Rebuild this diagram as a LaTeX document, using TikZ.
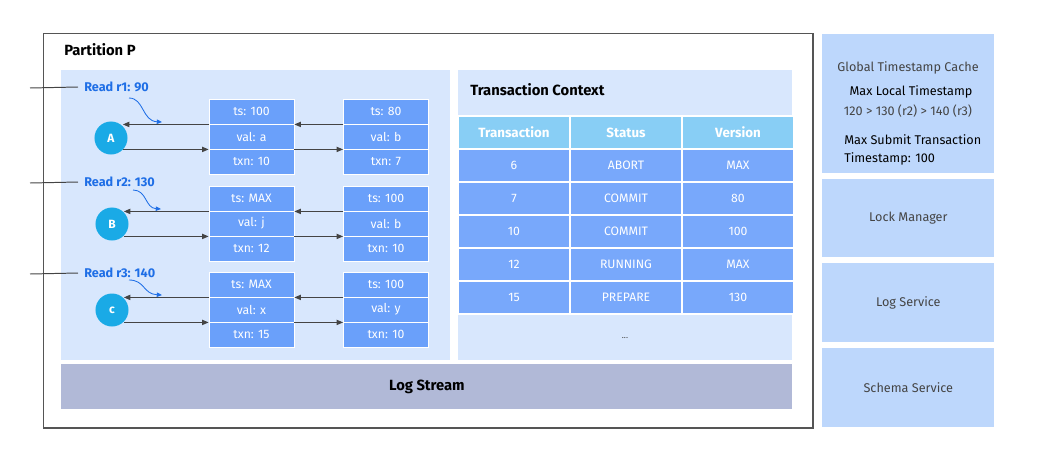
\documentclass[tikz,border=0pt]{standalone}
\usepackage{fontspec}
\setmainfont{Fira Sans}
\usetikzlibrary{arrows.meta,positioning,calc}
\definecolor{framegray}{RGB}{85,85,85}
\definecolor{panelblue}{RGB}{216,231,253}
\definecolor{cellblue}{RGB}{106,160,250}
\definecolor{tabblue}{RGB}{120,168,251}
\definecolor{headcyan}{RGB}{136,206,245}
\definecolor{dotcyan}{RGB}{26,170,230}
\definecolor{sideblue}{RGB}{189,215,252}
\definecolor{streamgray}{RGB}{177,185,215}
\definecolor{readblue}{RGB}{30,110,230}
\definecolor{textgray}{RGB}{68,68,68}

\begin{document}
\begin{tikzpicture}[x=0.025cm,y=-0.025cm,font=\fontsize{8.7}{10.4}\selectfont,
 panel/.style={fill=panelblue,draw=none,anchor=north west,inner sep=0pt},
 side/.style={fill=sideblue,draw=none,anchor=north west,inner sep=0pt,minimum width=4.3cm,text=textgray},
 cell/.style={fill=cellblue,draw=white,line width=0.6pt,text=white,minimum width=2.125cm,minimum height=0.625cm,inner sep=0pt},
 tcell/.style={fill=tabblue,draw=white,line width=1.4pt,text=white,minimum width=2.8cm,minimum height=0.825cm,inner sep=0pt},
 thead/.style={tcell,fill=headcyan,font=\fontsize{9.5}{11}\selectfont\bfseries},
 dot/.style={circle,fill=dotcyan,text=white,font=\fontsize{8.5}{10}\selectfont\bfseries,minimum size=0.825cm,inner sep=0pt},
 rdlab/.style={anchor=west,text=readblue,font=\fontsize{9}{10.8}\selectfont\bfseries,inner xsep=0.15cm,inner ysep=0pt},
 title/.style={anchor=west,inner sep=0pt,font=\fontsize{10.5}{12.5}\selectfont\bfseries},
 arr/.style={-{Triangle[length=1.6mm,width=1.3mm]},line width=0.7pt,draw=textgray},
 rd/.style={-{Triangle[length=1.3mm,width=1.1mm]},line width=0.6pt,draw=readblue},
 lead/.style={line width=0.7pt,draw=textgray}]
\useasboundingbox (0,0) rectangle (1040,454);
% partition frame
\node[draw=framegray,line width=1pt,anchor=north west,inner sep=0pt,minimum width=19.225cm,minimum height=9.85cm] (part) at (43,33) {};
\node[title] (ptitle) at (64,50) {Partition P};
\node[panel,minimum width=9.725cm,minimum height=7.25cm] (mvcc) at (61,70) {};
\node[panel,minimum width=8.35cm,minimum height=7.25cm] (ctx) at (458,70) {};
\node[panel,fill=streamgray,minimum width=18.275cm,minimum height=1.125cm,font=\fontsize{10.5}{12.5}\selectfont\bfseries] (stream) at (61,364) {Log Stream};
% services on the right
\node[side,minimum height=3.475cm,font=\fontsize{9}{10.8}\selectfont] (gts) at (822,34) {};
\node[side,minimum height=1.95cm,font=\fontsize{9}{10.8}\selectfont] (lock) at (822,179) {Lock Manager};
\node[side,minimum height=1.975cm,font=\fontsize{9}{10.8}\selectfont] (logsvc) at (822,263) {Log Service};
\node[side,minimum height=1.975cm,font=\fontsize{9}{10.8}\selectfont] (schema) at (822,348) {Schema Service};
\node[text=textgray,inner sep=0pt,font=\fontsize{9}{10.8}\selectfont] (gtsname) at (908,68) {Global Timestamp Cache};
\node[inner sep=0pt,font=\fontsize{9}{10.8}\selectfont] (maxlocal) at (911,92) {Max Local Timestamp};
\node[text=textgray,inner sep=0pt,font=\fontsize{9}{10.8}\selectfont] (maxval) at (908,111) {120 > 130 (r2) > 140 (r3)};
\node[anchor=west,inner sep=0pt,font=\fontsize{9}{10.8}\selectfont] (maxsub) at (844,140) {Max Submit Transaction};
\node[anchor=west,inner sep=0pt,font=\fontsize{9}{10.8}\selectfont] (subval) at (844,159) {Timestamp: 100};
% row A
\coordinate (inA) at (30,88);
\node[rdlab] (rdA) at (78,87) {Read r1: 90};
\node[dot] (A) at (111,138) {A};
\node[cell] (A1ts) at (251.5,111.5) {ts: 100};
\node[cell] (A1val) at (251.5,136.5) {val: a};
\node[cell] (A1txn) at (251.5,161.5) {txn: 10};
\node[cell] (A2ts) at (386,111.5) {ts: 80};
\node[cell] (A2val) at (386,136.5) {val: b};
\node[cell] (A2txn) at (386,161.5) {txn: 7};
\coordinate (cA) at (129,98);
\coordinate (eA) at (162,122);
% row B
\coordinate (inB) at (30,183);
\node[rdlab] (rdB) at (78,182) {Read r2: 130};
\node[dot] (B) at (112,224) {B};
\node[cell] (B1ts) at (251.5,198.5) {ts: MAX};
\node[cell] (B1val) at (251.5,223.5) {val: j};
\node[cell] (B1txn) at (251.5,248.5) {txn: 12};
\node[cell] (B2ts) at (386,198.5) {ts: 100};
\node[cell] (B2val) at (386,223.5) {val: b};
\node[cell] (B2txn) at (386,248.5) {txn: 10};
\coordinate (cB) at (133,190);
\coordinate (eB) at (161,209);
% row C
\coordinate (inC) at (30,274);
\node[rdlab] (rdC) at (78,273) {Read r3: 140};
\node[dot] (C) at (112,310) {c};
\node[cell] (C1ts) at (251.5,284.5) {ts: MAX};
\node[cell] (C1val) at (251.5,309.5) {val: x};
\node[cell] (C1txn) at (251.5,334.5) {txn: 15};
\node[cell] (C2ts) at (386,284.5) {ts: 100};
\node[cell] (C2val) at (386,309.5) {val: y};
\node[cell] (C2txn) at (386,334.5) {txn: 10};
\coordinate (cC) at (129,280);
\coordinate (eC) at (162,295);
% connectors
\draw[lead] (inA)--(rdA.west);
\draw[lead] (inB)--(rdB.west);
\draw[lead] (inC)--(rdC.west);
\draw[rd] (cA) .. controls (144,98) and (142,121) .. (eA);
\draw[rd] (cB) .. controls (147,190) and (145,208) .. (eB);
\draw[rd] (cC) .. controls (145,280) and (143,294) .. (eC);
\draw[arr] (A1ts.south west)--(A1ts.south west -| A.north east);
\draw[arr] (A.south east |- A1val.south west)--(A1val.south west);
\draw[arr] (A2ts.south west)--(A1ts.south east);
\draw[arr] (A1val.south east)--(A2val.south west);
\draw[arr] (B1ts.south west)--(B1ts.south west -| B.north east);
\draw[arr] (B.south east |- B1val.south west)--(B1val.south west);
\draw[arr] (B2ts.south west)--(B1ts.south east);
\draw[arr] (B1val.south east)--(B2val.south west);
\draw[arr] (C1ts.south west)--(C1ts.south west -| C.north east);
\draw[arr] (C.south east |- C1val.south west)--(C1val.south west);
\draw[arr] (C2ts.south west)--(C1ts.south east);
\draw[arr] (C1val.south east)--(C2val.south west);
% transaction context
\node[title] (ctitle) at (470,90) {Transaction Context};
\node[thead] (hTx) at (514,132.5) {Transaction};
\node[thead] (hSt) at (626,132.5) {Status};
\node[thead] (hVer) at (738,132.5) {Version};
\node[tcell] (tx6) at (514,165.5) {6};
\node[tcell] (st6) at (626,165.5) {ABORT};
\node[tcell] (ver6) at (738,165.5) {MAX};
\node[tcell] (tx7) at (514,198.5) {7};
\node[tcell] (st7) at (626,198.5) {COMMIT};
\node[tcell] (ver7) at (738,198.5) {80};
\node[tcell] (tx10) at (514,231.5) {10};
\node[tcell] (st10) at (626,231.5) {COMMIT};
\node[tcell] (ver10) at (738,231.5) {100};
\node[tcell] (tx12) at (514,264.5) {12};
\node[tcell] (st12) at (626,264.5) {RUNNING};
\node[tcell] (ver12) at (738,264.5) {MAX};
\node[tcell] (tx15) at (514,297.5) {15};
\node[tcell] (st15) at (626,297.5) {PREPARE};
\node[tcell] (ver15) at (738,297.5) {130};
\node[text=textgray,font=\fontsize{6}{7}\selectfont] (more) at (625,338) {...};
\end{tikzpicture}
\end{document}
